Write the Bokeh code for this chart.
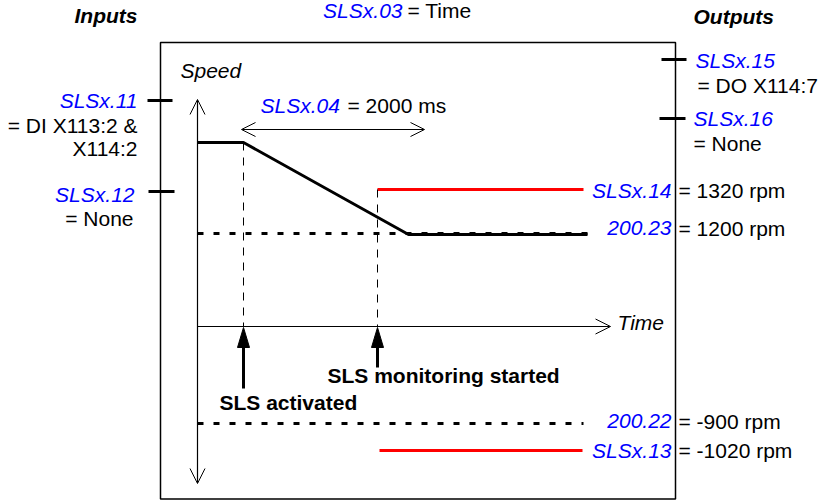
from bokeh.plotting import figure
from bokeh.models import Range1d, Arrow, OpenHead
from bokeh.core.properties import value
from bokeh.embed import file_html
from bokeh.resources import INLINE

# ---------------- data (texts / parameter values) ----------------
input_params = ["SLSx.11", "SLSx.12"]
input_lines = [["= DI X113:2 &", "X114:2"], ["= None"]]
output_params = ["SLSx.15", "SLSx.16"]
output_values = ["= DO X114:7", "= None"]
limit_params = ["SLSx.14", "200.23", "200.22", "SLSx.13"]
limit_values = ["= 1320 rpm", "= 1200 rpm", "= -900 rpm", "= -1020 rpm"]
limit_kind = ["sls", "max", "min", "sls"]
time_param, time_value = "SLSx.03", "= Time"
ramp_param, ramp_value = "SLSx.04", "= 2000 ms"
event_labels = ["SLS activated", "SLS monitoring started"]
headers = ["Inputs", "Outputs"]
axis_labels = ["Speed", "Time"]

# ---------------- schematic layout (diagram units) ----------------
FONT = value("Liberation Sans")
FS = "21px"
BLUE = "#0000FF"
RED = "#FF0000"
DY = -1.5   # text vertical offset

W, H = 823, 500
p = figure(width=W, height=H, x_range=Range1d(0, 823), y_range=Range1d(500, 0),
           output_backend="svg", toolbar_location=None, min_border=0)
p.axis.visible = False
p.grid.visible = False
p.outline_line_color = None
p.background_fill_color = "white"
p.border_fill_color = "white"

AXX, ZY = 197, 326          # speed axis x, time axis (zero speed) y
T_ACT, T_MON = 243, 377     # activation / monitoring start
box = dict(left=160, right=675, top=42, bottom=498.5)

# frame box
p.quad(left=[box["left"]], right=[box["right"]], top=[box["top"]], bottom=[box["bottom"]],
       fill_color=None, line_color="black", line_width=1.5)

# axes
p.add_layout(Arrow(x_start=AXX, y_start=483, x_end=AXX, y_end=99,
                   start=OpenHead(size=15, line_width=1), end=OpenHead(size=15, line_width=1),
                   line_width=1.2))
p.add_layout(Arrow(x_start=AXX, y_start=ZY, x_end=610, y_end=ZY,
                   end=OpenHead(size=15, line_width=1), line_width=1.2))
# ramp time arrow
p.add_layout(Arrow(x_start=241, y_start=129, x_end=424, y_end=129,
                   start=OpenHead(size=14, line_width=1), end=OpenHead(size=14, line_width=1),
                   line_width=1))

# limit lines
level_y = [189, 233, 423, 450]
level_x0 = [T_MON, AXX, AXX, 379]
level_x1 = [583, 587, 583, 582]
for k, y, x0, x1 in zip(limit_kind, level_y, level_x0, level_x1):
    if k == "sls":
        p.line([x0, x1], [y, y], line_color=RED, line_width=3)
    else:
        p.line([x0, x1], [y, y], line_color="black", line_width=3, line_dash="6 10")

# vertical dashed markers
p.line([T_ACT, T_ACT], [142, ZY], line_color="black", line_width=1, line_dash="8 7")
p.line([T_MON, T_MON], [189, ZY], line_color="black", line_width=1, line_dash="8 7")

# speed profile
p.line([AXX, T_ACT, 408, 587], [142, 142, 234, 234], line_color="black", line_width=3)

# event arrows (filled heads)
for x, tail in [(T_ACT, 388), (T_MON, 367)]:
    p.patch([x, x - 6, x + 6], [ZY + 1, ZY + 21, ZY + 21], fill_color="black", line_color="black")
    p.line([x, x], [ZY + 20, tail], line_color="black", line_width=3)

# input / output ticks
p.segment(x0=[147, 148], y0=[100, 191], x1=[172, 174], y1=[100, 191], line_color="black", line_width=3)
p.segment(x0=[661, 659], y0=[59, 118], x1=[686, 685], y1=[59, 118], line_color="black", line_width=3)

def txt(x, y, s, color="black", align="left", style="normal", size=FS):
    p.text(x=[x], y=[y + DY], text=[s], text_color=color, text_align=align, text_baseline="middle",
           text_font=FONT, text_font_size=size, text_font_style=style)

# headers
txt(137, 16, headers[0], align="right", style="bold italic")
txt(693, 17, headers[1], align="left", style="bold italic")
txt(402, 11.5, time_param, color=BLUE, align="right", style="italic")
txt(407, 11.5, time_value)

# axis labels
txt(180, 71, axis_labels[0], style="italic")
txt(617, 323, axis_labels[1], style="italic")

# ramp label
txt(260, 106, ramp_param, color=BLUE, style="italic")
txt(347, 106, ramp_value)

# inputs
txt(137, 101, input_params[0], color=BLUE, align="right", style="italic")
txt(137, 126, input_lines[0][0], align="right")
txt(137, 149, input_lines[0][1], align="right")
txt(134, 195, input_params[1], color=BLUE, align="right", style="italic")
txt(133, 219, input_lines[1][0], align="right")

# outputs
txt(695, 61, output_params[0], color=BLUE, style="italic")
txt(697, 86, output_values[0])
txt(693, 119, output_params[1], color=BLUE, style="italic")
txt(693, 144, output_values[1])

# limits
label_y = [191, 229, 422, 451]
for prm, val, y in zip(limit_params, limit_values, label_y):
    txt(671, y, prm, color=BLUE, align="right", style="italic")
    txt(678, y, val)

# events
txt(219, 403, event_labels[0], style="bold")
txt(327, 376, event_labels[1], style="bold")

open("out.html", "w").write(file_html(p, INLINE))
